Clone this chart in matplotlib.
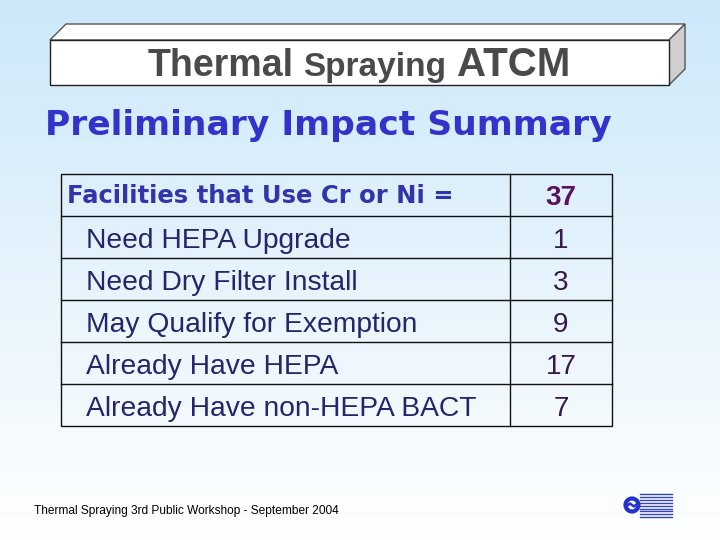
import numpy as np
import matplotlib
matplotlib.use('Agg')
import matplotlib.pyplot as plt
from matplotlib.patches import Polygon, Rectangle, Circle

# table content
etiquetas = ['Need HEPA Upgrade', 'Need Dry Filter Install', 'May Qualify for Exemption',
             'Already Have HEPA', 'Already Have non-HEPA BACT']
valores = [1, 3, 9, 17, 7]
encabezado = 'Facilities that Use Cr or Ni ='
total = 37

fig = plt.figure(figsize=(7.2, 5.4), dpi=100)
ax = fig.add_axes([0, 0, 1, 1])
ax.set_xlim(0, 720)
ax.set_ylim(540, 0)
ax.axis('off')

# fondo degradado celeste -> blanco
top = np.array([0.80, 0.91, 0.98])
grad = np.linspace(0, 1, 256)[:, None, None]
img = top * (1 - grad) + np.ones(3) * grad
ax.imshow(img, extent=[0, 720, 540, 0], aspect='auto', zorder=0)

# caja 3D del titulo
ax.add_patch(Polygon([(50, 40), (66, 24), (685, 24), (669, 40)], closed=True,
                     facecolor='white', edgecolor='#555555', lw=1, zorder=2))
ax.add_patch(Polygon([(669, 40), (685, 24), (685, 69), (669, 85)], closed=True,
                     facecolor='#cfcfcf', edgecolor='#555555', lw=1, zorder=2))
ax.add_patch(Rectangle((50, 40), 619, 45, facecolor='white', edgecolor='#222222', lw=1, zorder=2))
tit = dict(color='#4a4a4a', fontweight='bold', family='Liberation Sans', va='baseline', zorder=3)
ax.text(148, 76, 'Thermal', ha='left', fontsize=27, **tit)
ax.text(303, 76, 'Spraying', ha='left', fontsize=24, **tit)
ax.text(570, 76, 'ATCM', ha='right', fontsize=29, **tit)

ax.text(45, 126, 'Preliminary Impact Summary', color='#3333cc', fontsize=24.8,
        fontweight='bold', family='DejaVu Sans', ha='left', va='center', zorder=3)

# tabla
x0, xd, x1 = 61, 510, 612
y0, h = 174, 42
n = len(etiquetas) + 1
ax.add_patch(Rectangle((x0, y0), x1 - x0, h * n, facecolor='none', edgecolor='#111111', lw=1, zorder=3))
ax.plot([xd, xd], [y0, y0 + h * n], color='#111111', lw=1, zorder=3)
for i in range(1, n):
    ax.plot([x0, x1], [y0 + h * i, y0 + h * i], color='#111111', lw=1, zorder=3)

ax.text(67, y0 + 29, encabezado, color='#3333aa', fontsize=17.5, fontweight='bold',
        family='DejaVu Sans', ha='left', va='baseline', zorder=4)
ax.text(561, y0 + 31, str(total), color='#5a1060', fontsize=20, fontweight='bold',
        family='Liberation Sans', ha='center', va='baseline', zorder=4)
for i, (et, v) in enumerate(zip(etiquetas, valores)):
    yb = y0 + h * (i + 1) + 32
    ax.text(86, yb, et, color='#25256c', fontsize=20.3, family='Liberation Sans',
            ha='left', va='baseline', zorder=4)
    ax.text(561, yb, str(v), color='#36184f', fontsize=20, family='Liberation Sans',
            ha='center', va='baseline', zorder=4)

ax.text(34, 511, 'Thermal Spraying 3rd Public Workshop - September 2004', color='black',
        fontsize=8.6, family='Liberation Sans', ha='left', va='center', zorder=4)

# logo
for k in range(9):
    yy = 494 + k * 2.9
    ax.plot([640, 672], [yy, yy], color='#3344bb', lw=1, zorder=4)
ax.add_patch(Circle((632, 505), 6.5, facecolor='white', edgecolor='#2233cc', lw=3, zorder=5))
ax.plot([627, 630, 634, 637], [506, 503.5, 506.5, 504], color='#2233cc', lw=1.8, zorder=6)

fig.savefig('out.png', dpi=100)
